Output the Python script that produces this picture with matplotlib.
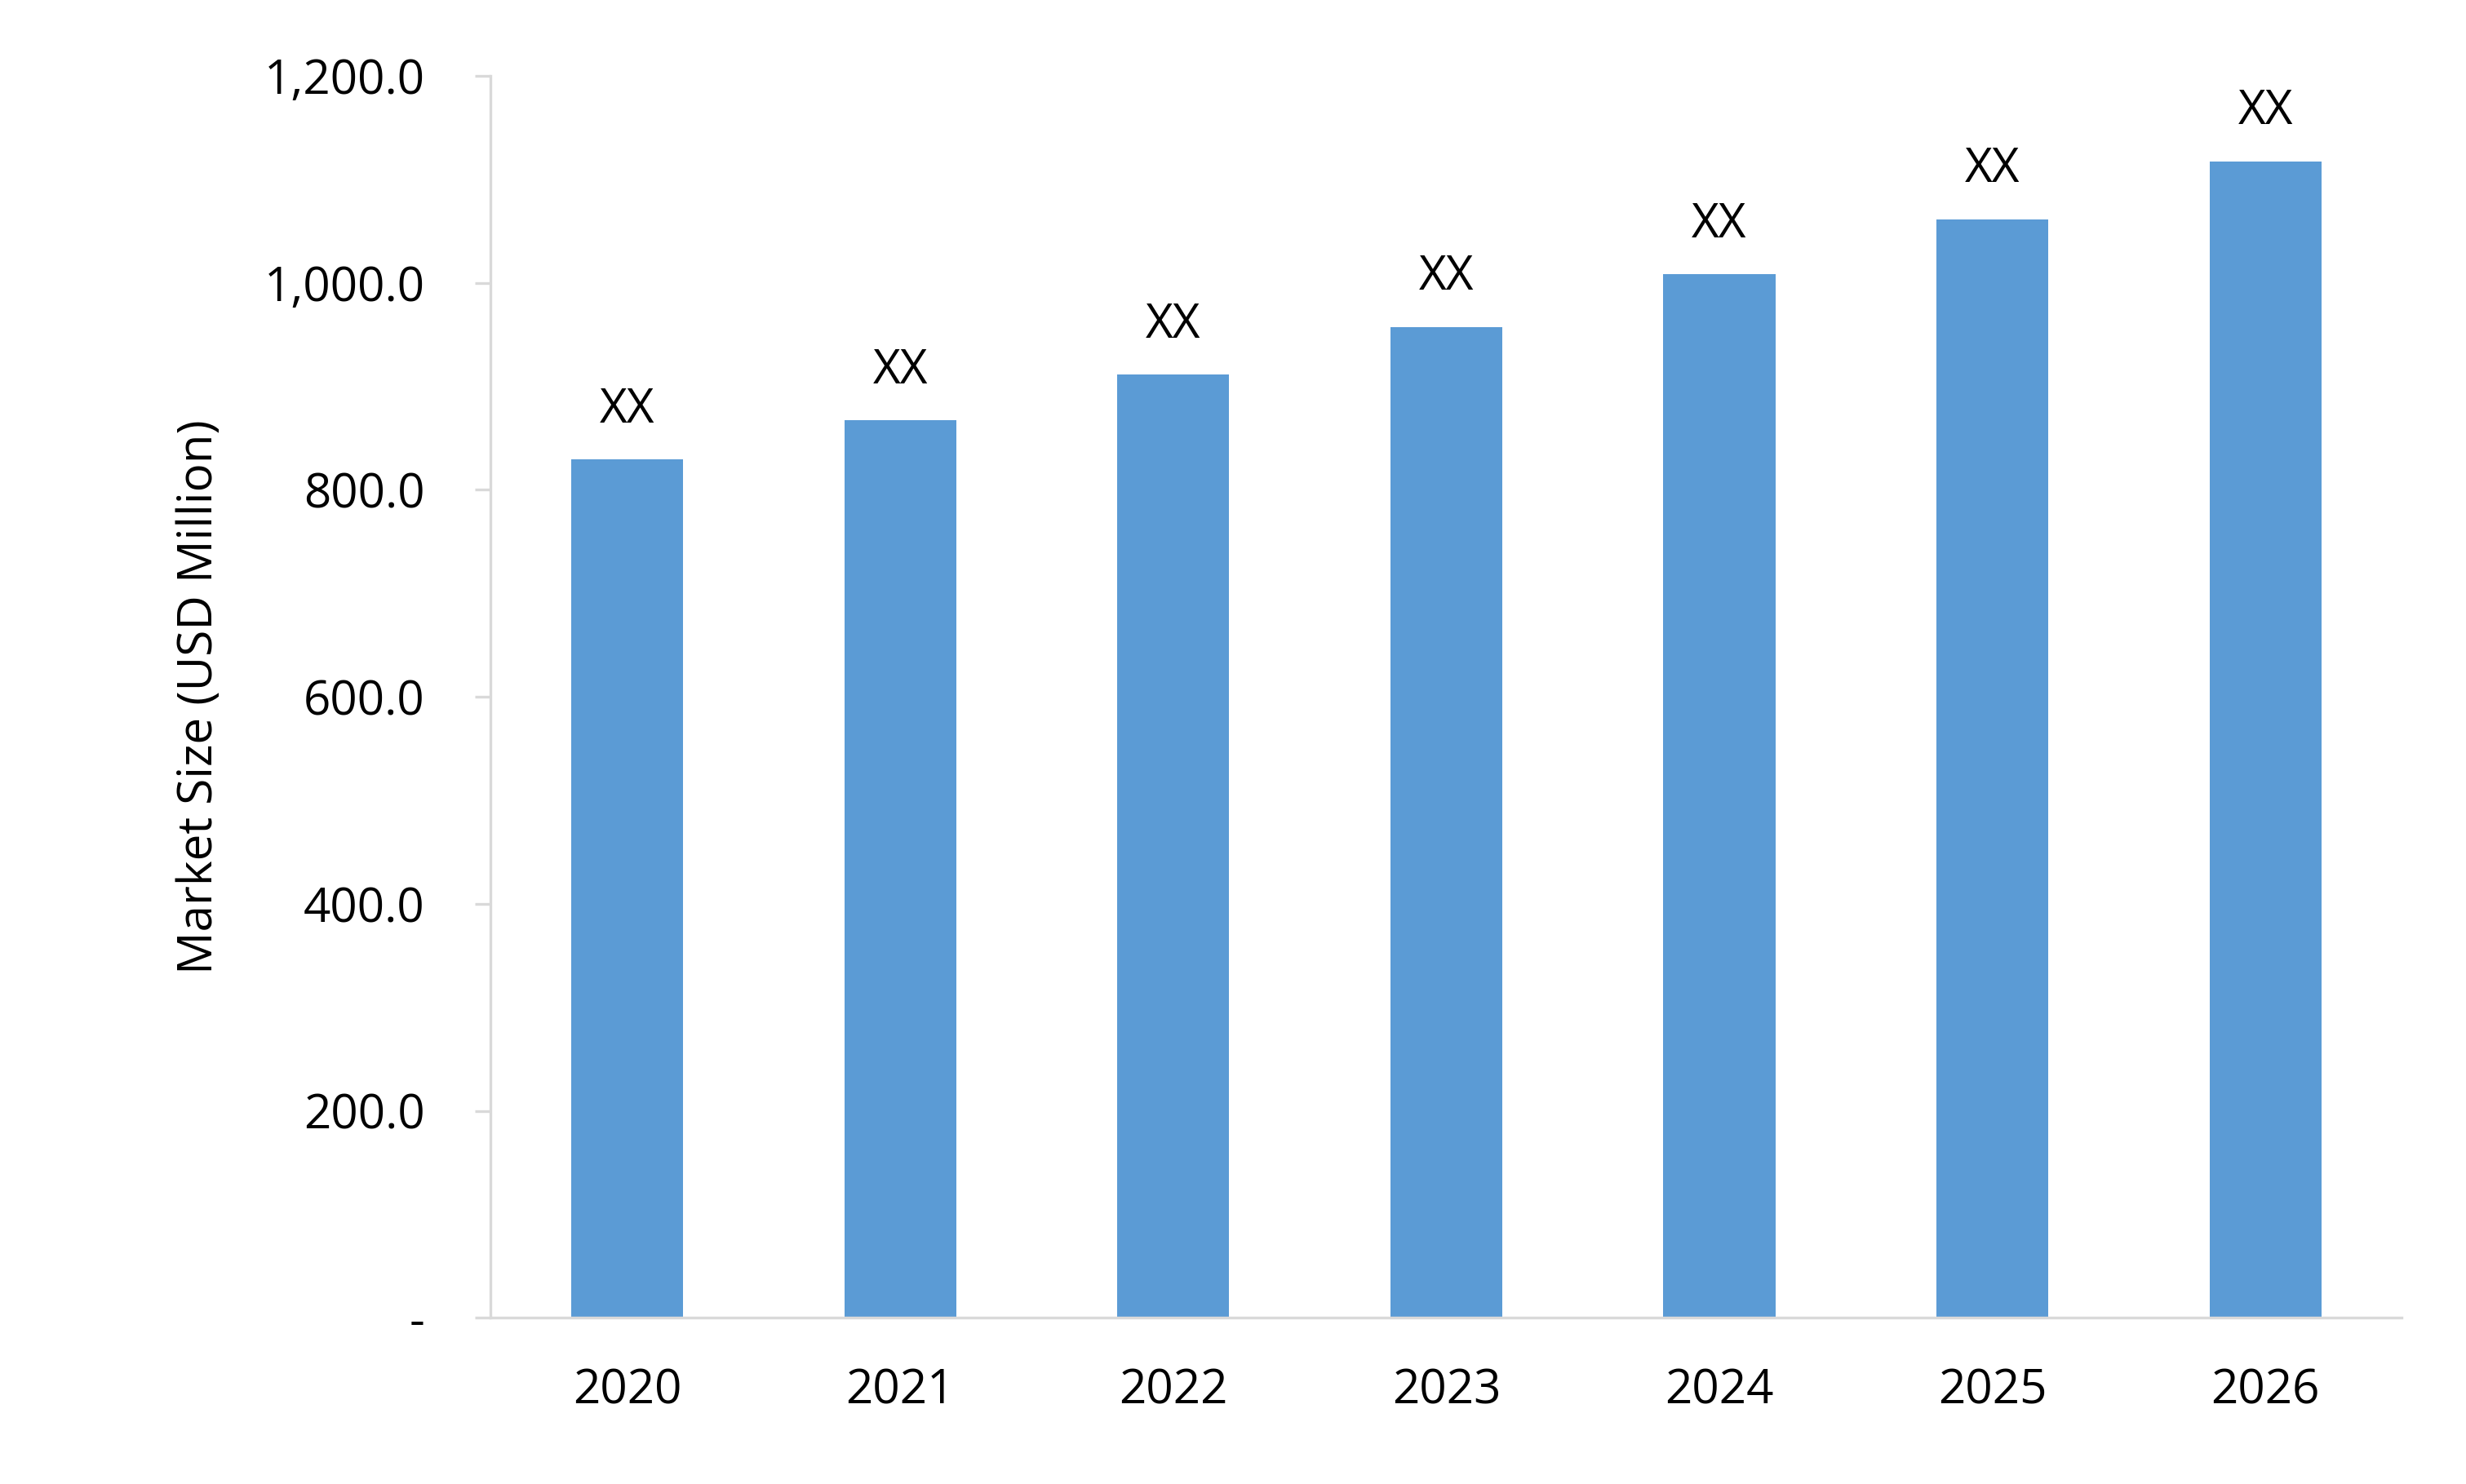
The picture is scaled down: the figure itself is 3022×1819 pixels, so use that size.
import matplotlib
matplotlib.use("Agg")
import matplotlib.pyplot as plt
from matplotlib.ticker import FuncFormatter

years = ["2020", "2021", "2022", "2023", "2024", "2025", "2026"]
values = [829, 867, 911, 957, 1008, 1061, 1117]
labels = ["XX"] * 7

plt.rcParams['font.family'] = ['Open Sans', 'DejaVu Sans']
fig = plt.figure(figsize=(15.11, 9.095), dpi=200)
ax = fig.add_axes([0.199, 0.112, 0.775, 0.837])
x = range(len(years))
bars = ax.bar(x, values, width=0.41, color="#5B9BD5")
for xi, v, l in zip(x, values, labels):
    ax.text(xi, v + 25, l, ha="center", va="bottom", fontsize=21)
ax.set_xlim(-0.5, 6.5)
ax.set_ylim(0, 1200)
ax.set_yticks(range(0, 1201, 200))
ax.yaxis.set_major_formatter(FuncFormatter(lambda v, p: "-" if v == 0 else f"{v:,.1f}"))
ax.set_xticks(list(x))
ax.set_xticklabels(years)
ax.tick_params(axis="x", length=0, labelsize=21, pad=22)
ax.tick_params(axis="y", length=7, color="#D9D9D9", width=1.2, labelsize=21, pad=22)
for s in ["top", "right"]:
    ax.spines[s].set_visible(False)
for s in ["left", "bottom"]:
    ax.spines[s].set_color("#D9D9D9")
    ax.spines[s].set_linewidth(1.2)
ax.set_ylabel("Market Size (USD Million)", fontsize=21, labelpad=18)
fig.savefig("out.png", dpi=200)
